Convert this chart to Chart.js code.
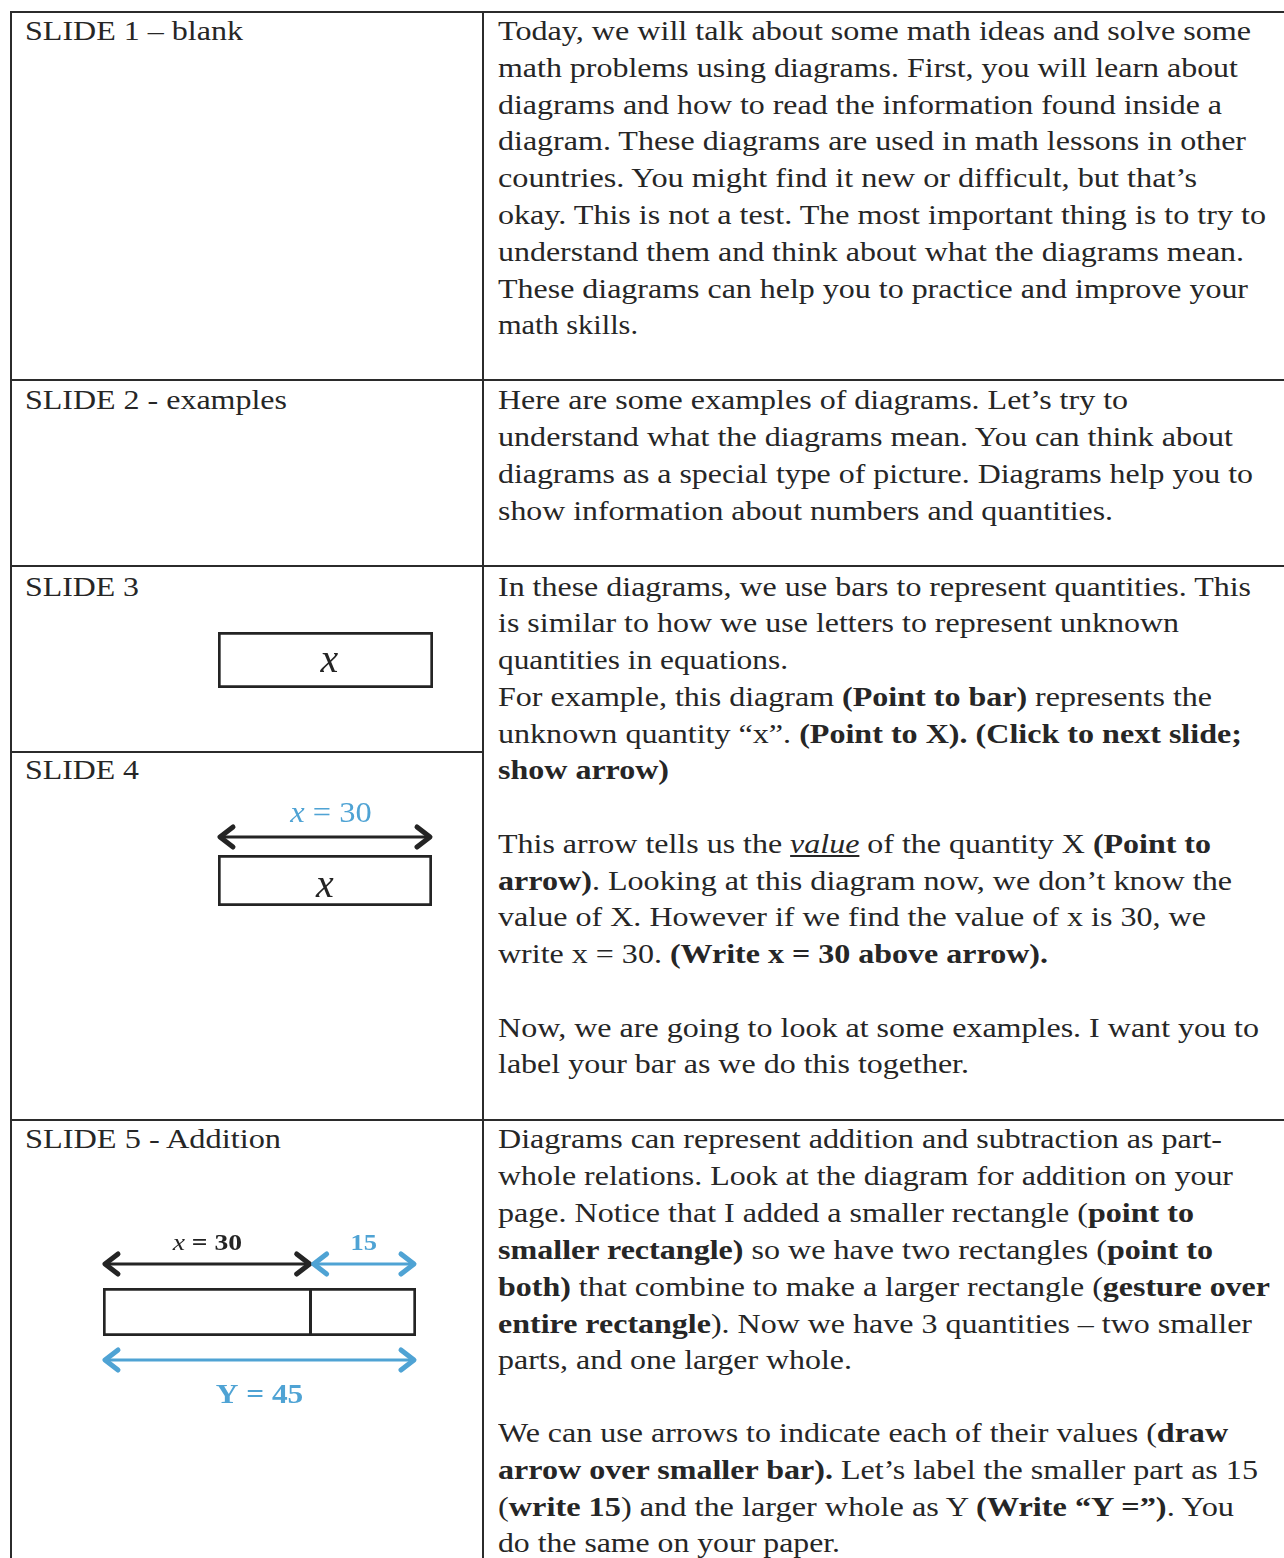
<!DOCTYPE html>
<html>
<head>
<meta charset="utf-8">
<script src="https://cdn.jsdelivr.net/npm/chart.js@4.4.1/dist/chart.umd.min.js"></script>
<style>
  html, body { margin: 0; padding: 0; background: #fff; }
  #page { position: relative; width: 1284px; height: 1558px; overflow: hidden; color: #262626; font-family: "Liberation Serif", "Times New Roman", serif; }
  .ln { position: absolute; white-space: nowrap; font-size: 28px; line-height: 36px; transform-origin: 0 0; }
  .rule { position: absolute; background: #2b2b2b; }
  canvas { position: absolute; }
</style>
</head>
<body>
<div id="page"></div>
<script>
// ---- diagram values ----
const slide3Bar = [30];
const slide4Bar = [30];
const slide4Arrow = [0, 30];
const slide5Parts = [30, 15];
const slide5Whole = [0, 45];
const slide5PartLabels = ['30', '15'];
const slide5WholeLabel = '45';

// ---- table text: [line centre y, right edge x, html] ----
const leftCells = [
  [31, 243, 'SLIDE 1 – blank'],
  [400, 287, 'SLIDE 2 - examples'],
  [587, 139, 'SLIDE 3'],
  [770, 139, 'SLIDE 4'],
  [1139, 281, 'SLIDE 5 - Addition']
];
const rightLines = [
  [31, 1251, 'Today, we will talk about some math ideas and solve some'],
  [68, 1238, 'math problems using diagrams. First, you will learn about'],
  [105, 1222, 'diagrams and how to read the information found inside a'],
  [141, 1246, 'diagram. These diagrams are used in math lessons in other'],
  [178, 1197, 'countries. You might find it new or difficult, but that’s'],
  [215, 1266, 'okay. This is not a test. The most important thing is to try to'],
  [252, 1244, 'understand them and think about what the diagrams mean.'],
  [289, 1248, 'These diagrams can help you to practice and improve your'],
  [325, 638, 'math skills.'],

  [400, 1128, 'Here are some examples of diagrams. Let’s try to'],
  [437, 1233, 'understand what the diagrams mean. You can think about'],
  [474, 1253, 'diagrams as a special type of picture. Diagrams help you to'],
  [511, 1113, 'show information about numbers and quantities.'],

  [587, 1251, 'In these diagrams, we use bars to represent quantities. This'],
  [623, 1179, 'is similar to how we use letters to represent unknown'],
  [660, 788, 'quantities in equations.'],
  [697, 1212, 'For example, this diagram <b>(Point to bar)</b> represents the'],
  [734, 1242, 'unknown quantity “x”. <b>(Point to X). (Click to next slide;</b>'],
  [770, 669, '<b>show arrow)</b>'],
  [844, 1211, 'This arrow tells us the <i><u>value</u></i> of the quantity X <b>(Point to</b>'],
  [881, 1232, '<b>arrow)</b>. Looking at this diagram now, we don’t know the'],
  [917, 1206, 'value of X. However if we find the value of x is 30, we'],
  [954, 1048, 'write x = 30. <b>(Write x = 30 above arrow).</b>'],
  [1028, 1259, 'Now, we are going to look at some examples. I want you to'],
  [1064, 969, 'label your bar as we do this together.'],

  [1139, 1222, 'Diagrams can represent addition and subtraction as part-'],
  [1176, 1233, 'whole relations. Look at the diagram for addition on your'],
  [1213, 1194, 'page. Notice that I added a smaller rectangle (<b>point to</b>'],
  [1250, 1213, '<b>smaller rectangle)</b> so we have two rectangles (<b>point to</b>'],
  [1287, 1270, '<b>both)</b> that combine to make a larger rectangle (<b>gesture over</b>'],
  [1324, 1252, '<b>entire rectangle</b>). Now we have 3 quantities – two smaller'],
  [1360, 852, 'parts, and one larger whole.'],
  [1433, 1228, 'We can use arrows to indicate each of their values (<b>draw</b>'],
  [1470, 1258, '<b>arrow over smaller bar).</b> Let’s label the smaller part as 15'],
  [1507, 1234, '(<b>write 15</b>) and the larger whole as Y <b>(Write “Y =”)</b>. You'],
  [1543, 840, 'do the same on your paper.']
];

const BLUE = '#4fa3d4';
const INK = '#242424';
const SERIF = '"Liberation Serif", "Times New Roman", serif';

const page = document.getElementById('page');

// table rules [x, y, w, h]
[
  [10, 11, 1274, 2], [10, 11, 2, 1547], [482, 11, 2, 1547],
  [10, 379, 1274, 2], [10, 565, 1274, 2], [10, 751, 473, 2], [10, 1119, 1274, 2]
].forEach(([x, y, w, h]) => {
  const r = document.createElement('div');
  r.className = 'rule';
  Object.assign(r.style, { left: x + 'px', top: y + 'px', width: w + 'px', height: h + 'px' });
  page.appendChild(r);
});

function placeLines(lines, left) {
  lines.forEach(([cy, right, html]) => {
    const d = document.createElement('div');
    d.className = 'ln';
    d.style.left = left + 'px';
    d.style.top = (cy - 18) + 'px';
    d.innerHTML = html;
    page.appendChild(d);
    const w = d.getBoundingClientRect().width;
    d.style.transform = 'scaleX(' + ((right - left) / w).toFixed(4) + ')';
  });
}
placeLines(leftCells, 25);
placeLines(rightLines, 498);

// ---- diagrams ----
function drawArrow(ctx, x1, x2, y, color) {
  const hl = 15, hh = 10;
  ctx.save();
  ctx.strokeStyle = color;
  ctx.lineCap = 'round';
  ctx.lineJoin = 'round';
  ctx.lineWidth = 3;
  ctx.beginPath(); ctx.moveTo(x1 + 3, y); ctx.lineTo(x2 - 3, y); ctx.stroke();
  ctx.lineWidth = 5;
  ctx.beginPath(); ctx.moveTo(x1 + hl, y - hh); ctx.lineTo(x1 + 2, y); ctx.lineTo(x1 + hl, y + hh); ctx.stroke();
  ctx.beginPath(); ctx.moveTo(x2 - hl, y - hh); ctx.lineTo(x2 - 2, y); ctx.lineTo(x2 - hl, y + hh); ctx.stroke();
  ctx.restore();
}

// mixed-font label centred on cx, optionally stretched sideways like the scan
function drawLabel(ctx, parts, cx, baseline, color, stretch) {
  const s = stretch || 1;
  ctx.save();
  ctx.fillStyle = color;
  ctx.textBaseline = 'alphabetic';
  ctx.textAlign = 'left';
  let total = 0;
  parts.forEach(p => { ctx.font = p.font; total += ctx.measureText(p.text).width; });
  ctx.translate(cx - total * s / 2, baseline);
  ctx.scale(s, 1);
  let px = 0;
  parts.forEach(p => {
    ctx.font = p.font;
    ctx.fillText(p.text, px, 0);
    px += ctx.measureText(p.text).width;
  });
  ctx.restore();
}

// arrows and labels are placed on the chart's own x scale
function diagramPlugin(spec) {
  return {
    id: 'diagram',
    afterDatasetsDraw(chart) {
      const ctx = chart.ctx, a = chart.chartArea, xs = chart.scales.x;
      (spec.arrows || []).forEach(ar => {
        const x1 = xs.getPixelForValue(ar.from), x2 = xs.getPixelForValue(ar.to);
        const y = ar.side === 'bottom' ? a.bottom + ar.offset : a.top - ar.offset;
        drawArrow(ctx, x1, x2, y, ar.color);
        if (ar.label) {
          const base = ar.side === 'bottom' ? a.bottom + ar.labelOffset : a.top - ar.labelOffset;
          drawLabel(ctx, ar.label, (x1 + x2) / 2 + (ar.labelShift || 0), base, ar.labelColor || ar.color, ar.stretch);
        }
      });
      (spec.barLabels || []).forEach(bl => {
        const cx = (xs.getPixelForValue(bl.from) + xs.getPixelForValue(bl.to)) / 2 + (bl.shift || 0);
        drawLabel(ctx, bl.label, cx, a.bottom - bl.bottomOffset, INK);
      });
    }
  };
}

function makeDiagram(area, pad, datasets, max, spec) {
  const c = document.createElement('canvas');
  const w = area.w + pad.left + pad.right, h = area.h + pad.top + pad.bottom;
  c.width = w; c.height = h;
  Object.assign(c.style, { left: (area.x - pad.left) + 'px', top: (area.y - pad.top) + 'px', width: w + 'px', height: h + 'px' });
  page.appendChild(c);
  return new Chart(c.getContext('2d'), {
    type: 'bar',
    data: { labels: [''], datasets: datasets },
    options: {
      indexAxis: 'y',
      responsive: false,
      animation: false,
      events: [],
      layout: { padding: pad },
      plugins: { legend: { display: false }, tooltip: { enabled: false } },
      scales: {
        x: { display: false, stacked: true, min: 0, max: max },
        y: { display: false, stacked: true }
      }
    },
    plugins: [diagramPlugin(spec)]
  });
}

function barSet(values, borderWidth) {
  return {
    data: values,
    backgroundColor: '#fff',
    borderColor: INK,
    borderWidth: borderWidth,
    borderSkipped: false,
    barPercentage: 1,
    categoryPercentage: 1
  };
}

const italicX = size => ({ text: 'x', font: 'italic ' + size + 'px ' + SERIF });

// slide 3: plain bar x
makeDiagram({ x: 218, y: 632, w: 215, h: 56 }, { left: 6, right: 6, top: 6, bottom: 6 },
  [barSet(slide3Bar, 3)], 30,
  { barLabels: [{ from: 0, to: slide3Bar[0], label: [italicX(40)], bottomOffset: 16, shift: 4 }] });

// slide 4: bar x with value arrow
makeDiagram({ x: 218, y: 855, w: 214, h: 51 }, { left: 6, right: 6, top: 62, bottom: 6 },
  [barSet(slide4Bar, 3)], 30,
  {
    arrows: [{
      from: slide4Arrow[0], to: slide4Arrow[1], side: 'top', offset: 18, color: INK, labelColor: BLUE,
      label: [italicX(30), { text: ' = 30', font: '30px ' + SERIF }], labelOffset: 33, labelShift: 6, stretch: 1.08
    }],
    barLabels: [{ from: 0, to: slide4Bar[0], label: [italicX(40)], bottomOffset: 9 }]
  });

// slide 5: part-whole addition
const partStarts = [0, slide5Parts[0]];
makeDiagram({ x: 103, y: 1288, w: 313, h: 48 }, { left: 8, right: 10, top: 62, bottom: 78 },
  [barSet([slide5Parts[0]], 3), barSet([slide5Parts[1]], { top: 3, right: 3, bottom: 3, left: 0 })],
  slide5Whole[1],
  {
    arrows: [
      { from: partStarts[0], to: partStarts[0] + slide5Parts[0], side: 'top', offset: 24, color: INK,
        label: [italicX(23), { text: ' = ' + slide5PartLabels[0], font: 'bold 23px ' + SERIF }], labelOffset: 38, stretch: 1.2 },
      { from: partStarts[1], to: partStarts[1] + slide5Parts[1], side: 'top', offset: 24, color: BLUE,
        label: [{ text: slide5PartLabels[1], font: 'bold 23px ' + SERIF }], labelOffset: 38, stretch: 1.15 },
      { from: slide5Whole[0], to: slide5Whole[1], side: 'bottom', offset: 24, color: BLUE,
        label: [{ text: 'Y = ' + slide5WholeLabel, font: 'bold 28px ' + SERIF }], labelOffset: 67, stretch: 1.12 }
    ]
  });
</script>
</body>
</html>
